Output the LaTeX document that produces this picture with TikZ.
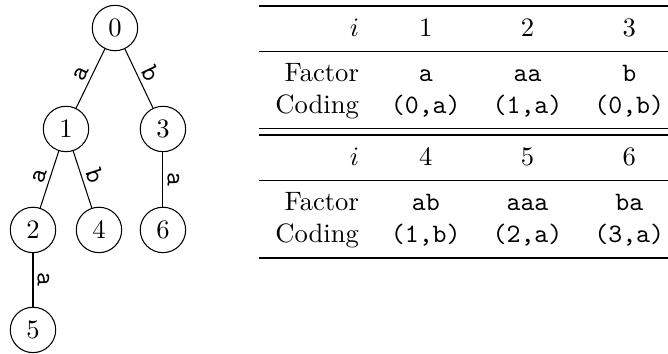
\documentclass[tikz,border=0pt]{standalone}
\usepackage{booktabs}

\begin{document}
\begin{tikzpicture}[
        trieNode/.style={
            circle,
            draw,
            minimum size=0.6cm,
            inner sep=0pt
        },
        edgeLabel/.style={
            sloped,
            above,
            inner sep=1.5pt,
            font=\ttfamily
        },
        line/.style={
        }
    ]
        \useasboundingbox (0,0) rectangle (8.826,-4.677);

        \node[trieNode] (n0) at (1.519,-0.370) {0};

        \node[trieNode] (n1) at (0.872,-1.704) {1};
        \node[trieNode] (n3) at (2.153,-1.704) {3};
        \node[trieNode] (n2) at (0.436,-3.038) {2};
        \node[trieNode] (n4) at (1.308,-3.038) {4};
        \node[trieNode] (n6) at (2.153,-3.038) {6};
        \node[trieNode] (n5) at (0.436,-4.359) {5};

        \draw[line] (n0) -- node[edgeLabel] {a} (n1);
        \draw[line] (n0) -- node[edgeLabel] {b} (n3);
        \draw[line] (n1) -- node[edgeLabel] {a} (n2);
        \draw[line] (n1) -- node[edgeLabel] {b} (n4);
        \draw[line] (n3) -- node[edgeLabel] {a} (n6);
        \draw[line] (n2) -- node[edgeLabel] {a} (n5);

        \node[anchor=north west, inner sep=0pt] (codes) at (3.421,-0.053) {%
            \begin{tabular}{rccc}
                \toprule
                $i$    & 1              & 2              & 3              \\
                \midrule
                Factor & \texttt{a}     & \texttt{aa}    & \texttt{b}     \\
                Coding & \texttt{(0,a)} & \texttt{(1,a)} & \texttt{(0,b)} \\
                \midrule\midrule
                $i$    & 4              & 5              & 6              \\
                \midrule
                Factor & \texttt{ab}    & \texttt{aaa}   & \texttt{ba}    \\
                Coding & \texttt{(1,b)} & \texttt{(2,a)} & \texttt{(3,a)} \\
                \bottomrule
            \end{tabular}};

    \end{tikzpicture}
\end{document}
